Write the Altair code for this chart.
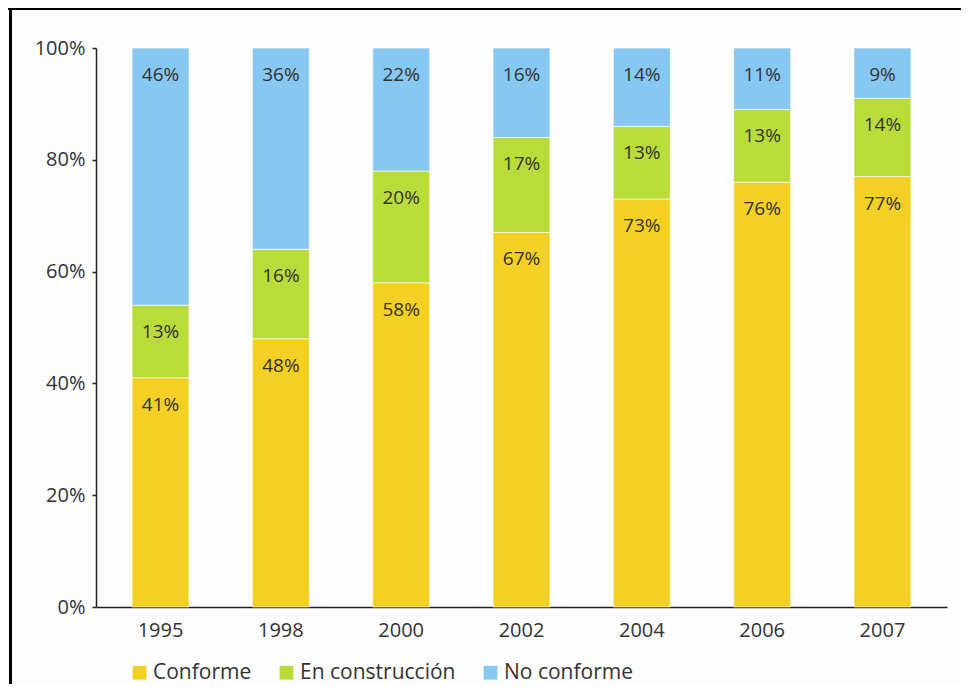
import altair as alt
import pandas as pd

years = ["1995", "1998", "2000", "2002", "2004", "2006", "2007"]
conforme = [41, 48, 58, 67, 73, 76, 77]
construccion = [13, 16, 20, 17, 13, 13, 14]
no_conforme = [46, 36, 22, 16, 14, 11, 9]
series = ["Conforme", "En construcción", "No conforme"]
colors = ["#F5D024", "#B9DC3B", "#87C8F2"]
y_ticks = [0, 20, 40, 60, 80, 100]

rows = []
for i, y in enumerate(years):
    for k, (name, vals) in enumerate(zip(series, [conforme, construccion, no_conforme])):
        rows.append({"year": y, "serie": name, "value": vals[i], "ord": k})
df = pd.DataFrame(rows)

FONT = "Open Sans"

base = alt.Chart(df).transform_stack(
    stack="value", groupby=["year"], sort=[alt.SortField("ord", order="ascending")], as_=["v0", "v1"]
)

xenc = alt.X("year:N", sort=years,
             scale=alt.Scale(paddingInner=0.527, paddingOuter=0.3),
             axis=alt.Axis(title=None, labelAngle=0, ticks=False, labelPadding=13,
                           labelFontSize=20, labelColor="#333", labelFont=FONT,
                           domainColor="#222", domainWidth=1.5))

bars = base.mark_bar(stroke="white", strokeWidth=0.6).encode(
    x=xenc,
    y=alt.Y("v0:Q", scale=alt.Scale(domain=[0, 100]),
            axis=alt.Axis(title=None, values=y_ticks, labelExpr="datum.value + '%'",
                          grid=False, tickSize=4, tickColor="#222", tickWidth=1.5,
                          domainColor="#222", domainWidth=1.5, labelPadding=7,
                          labelFontSize=20, labelColor="#333", labelFont=FONT)),
    y2="v1:Q",
    color=alt.Color("serie:N", sort=series,
                    scale=alt.Scale(domain=series, range=colors),
                    legend=alt.Legend(title=None, orient="none", direction="horizontal",
                                      legendX=33, legendY=614, symbolType="square",
                                      symbolSize=190, symbolStrokeWidth=0,
                                      labelFontSize=21, labelFont=FONT, labelColor="#333",
                                      labelOffset=3, columnPadding=24)),
    order=alt.Order("ord:Q"),
)

labels = base.mark_text(dy=27, fontSize=19, font=FONT, color="#333").encode(
    x=alt.X("year:N", sort=years),
    y=alt.Y("v1:Q"),
    text=alt.Text("label:N"),
).transform_calculate(label="datum.value + '%'")

frame_top = alt.Chart(pd.DataFrame({"a": [0]})).mark_rule(color="black", strokeWidth=3).encode(
    x=alt.value(-90), x2=alt.value(900), y=alt.value(-39.5))
frame_left = alt.Chart(pd.DataFrame({"a": [0]})).mark_rule(color="black", strokeWidth=3).encode(
    x=alt.value(-85.5), y=alt.value(-41), y2=alt.value(650))

chart = alt.layer(bars, labels, frame_top, frame_left).properties(
    width=851, height=559,
    padding={"left": 88, "top": 40, "right": 14, "bottom": 77},
    autosize=alt.AutoSizeParams(type="none"),
    background="#FDFDFD",
).configure_view(stroke=None)

chart.save("out.html", embed_options={"renderer": "svg", "actions": False})
